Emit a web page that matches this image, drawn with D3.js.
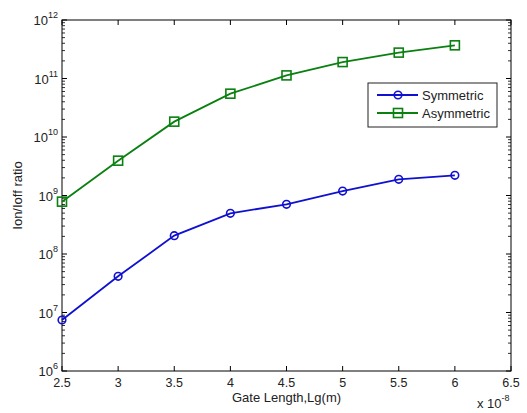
<!DOCTYPE html>
<html>
<head>
<meta charset="utf-8">
<script src="https://cdn.jsdelivr.net/npm/d3@7"></script>
<style>
  body { margin: 0; background: #fff; }
  svg { display: block; font-family: "Liberation Sans", Arial, sans-serif; }
  .tick-label { font-size: 13px; fill: #222; }
  .x-tick { font-size: 12.5px; }
  .axis-title { font-size: 13px; fill: #222; }
</style>
</head>
<body>
<svg id="chart"></svg>
<script>
// gate length, in units of 1e-8 m
const gateLength = [2.5, 3, 3.5, 4, 4.5, 5, 5.5, 6];
const symmetric = [7.45e6, 4.15e7, 2.06e8, 4.96e8, 7.07e8, 1.19e9, 1.89e9, 2.21e9];
const asymmetric = [7.85e8, 3.94e9, 1.83e10, 5.5e10, 1.13e11, 1.91e11, 2.77e11, 3.69e11];
const xTicks = [2.5, 3, 3.5, 4, 4.5, 5, 5.5, 6, 6.5];
const yExponents = [6, 7, 8, 9, 10, 11, 12];
const seriesNames = ["Symmetric", "Asymmetric"];

const width = 527, height = 413;
const margin = { top: 20, right: 16, bottom: 42, left: 62 };
const plotW = width - margin.left - margin.right;   // 449
const plotH = height - margin.top - margin.bottom;  // 351

const svg = d3.select("#chart").attr("width", width).attr("height", height);

const x = d3.scaleLinear().domain([2.5, 6.5]).range([0, plotW]);
const y = d3.scaleLog().domain([1e6, 1e12]).range([plotH, 0]);

const g = svg.append("g").attr("transform", "translate(" + margin.left + "," + margin.top + ")");

// minor log ticks (2..9 in each decade)
const minor = [];
yExponents.slice(0, -1).forEach(e => {
  for (let k = 2; k <= 9; k++) minor.push(k * Math.pow(10, e));
});
const major = yExponents.map(e => Math.pow(10, e));

// y ticks on left and right, pointing inward
[[0, 1], [plotW, -1]].forEach(([x0, dir]) => {
  g.append("g").selectAll("line.minor").data(minor).enter().append("line")
    .attr("x1", x0).attr("x2", x0 + dir * 3)
    .attr("y1", d => y(d)).attr("y2", d => y(d))
    .attr("stroke", "#333").attr("stroke-width", 1);
  g.append("g").selectAll("line.major").data(major).enter().append("line")
    .attr("x1", x0).attr("x2", x0 + dir * 5)
    .attr("y1", d => y(d)).attr("y2", d => y(d))
    .attr("stroke", "#000").attr("stroke-width", 1);
});

// x ticks on bottom and top, pointing inward
[[plotH, -1], [0, 1]].forEach(([y0, dir]) => {
  g.append("g").selectAll("line").data(xTicks).enter().append("line")
    .attr("x1", d => x(d)).attr("x2", d => x(d))
    .attr("y1", y0).attr("y2", y0 + dir * 5)
    .attr("stroke", "#000").attr("stroke-width", 1);
});

// box
g.append("rect").attr("x", 0).attr("y", 0).attr("width", plotW).attr("height", plotH)
  .attr("fill", "none").attr("stroke", "#000").attr("stroke-width", 1);

// x tick labels
g.append("g").selectAll("text").data(xTicks).enter().append("text")
  .attr("class", "tick-label x-tick")
  .attr("x", d => x(d)).attr("y", plotH + 16)
  .attr("text-anchor", "middle")
  .text(d => d3.format("~g")(d));

// y tick labels: 10^n
const yl = g.append("g").selectAll("text").data(yExponents).enter().append("text")
  .attr("class", "tick-label")
  .attr("x", -4).attr("y", e => y(Math.pow(10, e)) + 5)
  .attr("text-anchor", "end");
yl.append("tspan").text("10");
yl.append("tspan").attr("dy", -7).attr("font-size", 9).text(e => e);

// axis titles
svg.append("text").attr("class", "axis-title")
  .attr("x", margin.left + plotW / 2).attr("y", 402)
  .attr("text-anchor", "middle").text("Gate Length,Lg(m)");

svg.append("text").attr("class", "axis-title")
  .attr("transform", "translate(22," + (margin.top + plotH / 2) + ") rotate(-90)")
  .attr("text-anchor", "middle").text("Ion/Ioff ratio");

const mult = svg.append("text").attr("class", "axis-title").attr("x", 477).attr("y", 408);
mult.append("tspan").text("x 10");
mult.append("tspan").attr("dy", -7).attr("font-size", 9).text("-8");

// series
const series = [
  { name: seriesNames[0], values: symmetric, color: "#1010d0", marker: "circle" },
  { name: seriesNames[1], values: asymmetric, color: "#0a8010", marker: "square" }
];

const line = d3.line().x(d => x(d[0])).y(d => y(d[1]));

function drawMarker(sel, kind, color) {
  if (kind === "circle") {
    sel.append("circle").attr("r", 3.8)
      .attr("fill", "none").attr("stroke", color).attr("stroke-width", 1.6);
  } else {
    sel.append("rect").attr("x", -4.5).attr("y", -4.5).attr("width", 9).attr("height", 9)
      .attr("fill", "none").attr("stroke", color).attr("stroke-width", 1.6);
  }
}

series.forEach(s => {
  const pts = gateLength.map((v, i) => [v, s.values[i]]);
  g.append("path").datum(pts).attr("d", line)
    .attr("fill", "none").attr("stroke", s.color).attr("stroke-width", 1.8);
  g.append("g").selectAll("g").data(pts).enter().append("g")
    .attr("transform", d => "translate(" + x(d[0]) + "," + y(d[1]) + ")")
    .each(function () { drawMarker(d3.select(this), s.marker, s.color); });
});

// legend
const legend = svg.append("g").attr("transform", "translate(368,83)");
legend.append("rect").attr("width", 129).attr("height", 44)
  .attr("fill", "#fff").attr("stroke", "#222").attr("stroke-width", 1);
series.forEach((s, i) => {
  const row = legend.append("g").attr("transform", "translate(0," + (12 + i * 18) + ")");
  row.append("line").attr("x1", 9).attr("x2", 50).attr("y1", 0).attr("y2", 0)
    .attr("stroke", s.color).attr("stroke-width", 1.8);
  drawMarker(row.append("g").attr("transform", "translate(30,0)"), s.marker, s.color);
  row.append("text").attr("class", "tick-label").attr("x", 54).attr("y", 5).text(s.name);
});
</script>
</body>
</html>
